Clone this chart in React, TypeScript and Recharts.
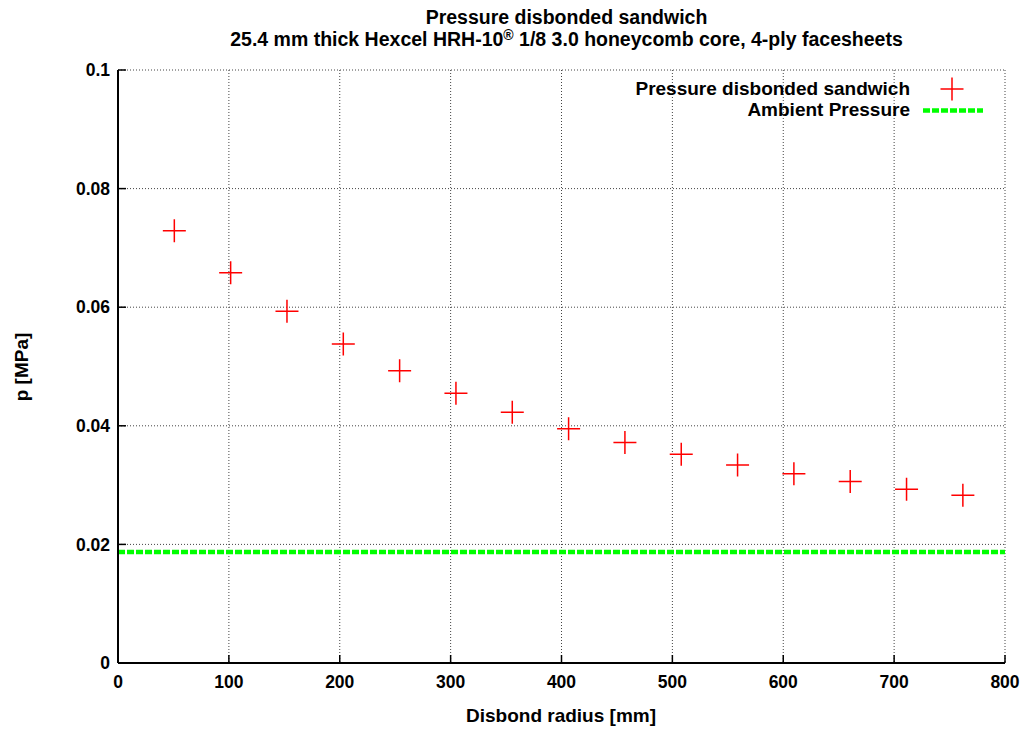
import React from 'react';
import {
  ComposedChart,
  Scatter,
  XAxis,
  YAxis,
  CartesianGrid,
  ReferenceLine,
} from 'recharts';

const radiusMm = [50.8, 101.6, 152.4, 203.2, 254, 304.8, 355.6, 406.4, 457.2, 508, 558.8, 609.6, 660.4, 711.2, 762];
const pressureMPa = [0.0729, 0.0658, 0.0593, 0.0538, 0.0493, 0.0455, 0.0423, 0.0395, 0.0372, 0.0352, 0.0334, 0.0319, 0.0306, 0.0293, 0.0283];
const ambientPressure = 0.0187;
const xTicks = [0, 100, 200, 300, 400, 500, 600, 700, 800];
const yTicks = [0, 0.02, 0.04, 0.06, 0.08, 0.1];

const seriesName = 'Pressure disbonded sandwich';
const ambientName = 'Ambient Pressure';

const data = radiusMm.map((r, i) => ({ r, p: pressureMPa[i] }));

const FONT = "'Liberation Sans', Arial, Helvetica, sans-serif";
const W = 1031;
const H = 729;

const Cross = (props: any) => {
  const { cx, cy } = props;
  if (cx == null || cy == null) return null;
  const s = 11.5;
  return (
    <path
      d={`M${cx - s},${cy}H${cx + s}M${cx},${cy - s}V${cy + s}`}
      stroke="#ff0000"
      strokeWidth={1.5}
      fill="none"
    />
  );
};

const LegendBox = () => (
  <div
    style={{
      position: 'absolute',
      top: 79,
      right: 48,
      fontFamily: FONT,
      fontSize: 19,
      fontWeight: 'bold',
      color: '#000',
      lineHeight: '20.5px',
    }}
  >
    <div style={{ display: 'flex', alignItems: 'center', justifyContent: 'flex-end' }}>
      <span>{seriesName}</span>
      <svg width={73} height={20} style={{ overflow: 'visible' }}>
        <path d="M30.5,10H53.5M42,-1.5V21.5" stroke="#ff0000" strokeWidth={1.5} fill="none" />
      </svg>
    </div>
    <div style={{ display: 'flex', alignItems: 'center', justifyContent: 'flex-end' }}>
      <span>{ambientName}</span>
      <svg width={73} height={20}>
        <line x1={13} y1={10.5} x2={73} y2={10.5} stroke="#00ff00" strokeWidth={4.5} strokeDasharray="7 2" />
      </svg>
    </div>
  </div>
);

export default function App() {
  const tickStyle = { fontFamily: FONT, fontSize: 17.5, fontWeight: 'bold', fill: '#000' };
  return (
    <div style={{ position: 'absolute', left: 0, top: 0, width: W, height: H, background: '#fff', fontFamily: FONT }}>
      <ComposedChart
        width={W}
        height={H}
        data={data}
        margin={{ top: 70, right: 26, bottom: 0, left: 0 }}
        style={{ position: 'absolute', left: 0, top: 0 }}
      >
        <CartesianGrid
          xAxisId="bottom"
          yAxisId="left"
          stroke="#444"
          strokeDasharray="1 2"
          strokeWidth={1}
        />
        <XAxis
          xAxisId="bottom"
          dataKey="r"
          type="number"
          domain={[0, 800]}
          ticks={xTicks}
          allowDataOverflow
          height={66}
          stroke="#000"
          strokeWidth={2}
          tickSize={-8}
          tickMargin={21}
          tick={tickStyle}
          tickLine={{ stroke: '#000', strokeWidth: 1.5 }}
        />
        <XAxis
          xAxisId="top"
          orientation="top"
          dataKey="r"
          type="number"
          domain={[0, 800]}
          ticks={xTicks}
          allowDataOverflow
          height={0}
          stroke="#000"
          strokeWidth={2}
          tickSize={-8}
          tickFormatter={() => ''}
          tickLine={{ stroke: '#000', strokeWidth: 1.5 }}
        />
        <YAxis
          yAxisId="left"
          type="number"
          domain={[0, 0.1]}
          ticks={yTicks}
          allowDataOverflow
          width={118}
          stroke="#000"
          strokeWidth={2}
          tickSize={-8}
          tickMargin={16}
          tick={tickStyle}
          tickFormatter={(v: number) => String(v)}
          tickLine={{ stroke: '#000', strokeWidth: 1.5 }}
        />
        <YAxis
          yAxisId="right"
          orientation="right"
          type="number"
          domain={[0, 0.1]}
          ticks={yTicks}
          allowDataOverflow
          width={0}
          stroke="#000"
          strokeWidth={2}
          tickSize={-8}
          tickFormatter={() => ''}
          tickLine={{ stroke: '#000', strokeWidth: 1.5 }}
        />
        <ReferenceLine
          xAxisId="bottom"
          yAxisId="left"
          y={ambientPressure}
          stroke="#00ff00"
          strokeWidth={4.5}
          strokeDasharray="7 2"
        />
        <Scatter
          xAxisId="bottom"
          yAxisId="left"
          name={seriesName}
          dataKey="p"
          shape={Cross}
          isAnimationActive={false}
        />
      </ComposedChart>
      <div
        style={{
          position: 'absolute',
          left: 0,
          width: 1133,
          top: 6,
          textAlign: 'center',
          fontSize: 19.5,
          fontWeight: 'bold',
          lineHeight: '22px',
          color: '#000',
        }}
      >
        <div>Pressure disbonded sandwich</div>
        <div>
          25.4 mm thick Hexcel HRH-10<sup style={{ fontSize: 14, lineHeight: 0, verticalAlign: '0.45em' }}>®</sup> 1/8 3.0 honeycomb core, 4-ply facesheets
        </div>
      </div>
      <div
        style={{
          position: 'absolute',
          left: 22,
          top: 367,
          transform: 'translate(-50%, -50%) rotate(-90deg)',
          fontSize: 19,
          fontWeight: 'bold',
          whiteSpace: 'nowrap',
          color: '#000',
        }}
      >
        p [MPa]
      </div>
      <div
        style={{
          position: 'absolute',
          left: 561,
          top: 716,
          transform: 'translate(-50%, -50%)',
          fontSize: 19,
          fontWeight: 'bold',
          whiteSpace: 'nowrap',
          color: '#000',
        }}
      >
        Disbond radius [mm]
      </div>
      <LegendBox />
    </div>
  );
}
